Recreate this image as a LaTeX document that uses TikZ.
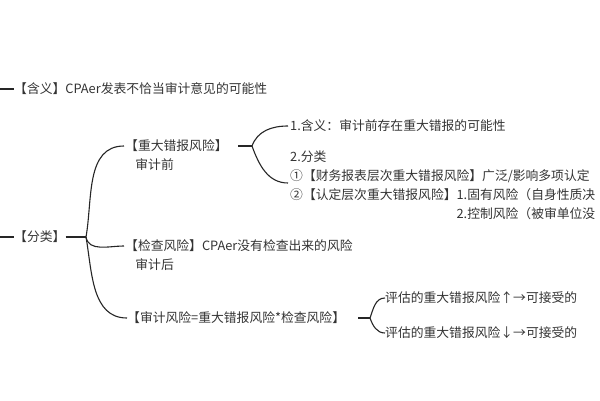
\documentclass[tikz,border=0pt]{standalone}
\usepackage{fontspec}
\setmainfont{Noto Sans CJK SC}
\begin{document}
\begin{tikzpicture}[x=1pt,y=-1pt,
  txt/.style={anchor=west,inner sep=0pt,font=\fontsize{12.8}{19}\selectfont,text=black!80},
  ln/.style={line width=1.1pt,black!85},
  br/.style={ln}]
\useasboundingbox (0,0) rectangle (600,400);
\clip (0,0) rectangle (600,400);
% top
\coordinate (s1) at (0,89);
\node[txt] (han) at (14,89) {【含义】CPAer发表不恰当审计意见的可能性};
\draw[ln] (s1) -- (han.west);
\coordinate (s2) at (0,237);
\node[txt] (fl) at (14,237) {【分类】};
\draw[ln] (s2) -- (fl.west);
\coordinate (b1) at (86,237);
\draw[ln] (fl.east) -- (b1);
% level 2
\node[txt,align=left] (zd) at (125,155) {【重大错报风险】\\\hspace{0.8em}审计前};
\node[txt,align=left] (jc) at (125,255) {【检查风险】CPAer没有检查出来的风险\\\hspace{0.8em}审计后};
\node[txt] (sj) at (127,318) {【审计风险=重大错报风险*检查风险】};
\coordinate (t0) at (124,146);
\coordinate (t3) at (124,246);
\draw[br] (b1) to[out=80,in=180] (t0);
\draw[br] (b1) to[out=-80,in=180] (t3);
\draw[br] (b1) to[out=-80,in=180] (sj.west);
% zd branch
\coordinate (b2a) at (238,146);
\coordinate (b2) at (252,146);
\draw[ln] (b2a) -- (b2);
\node[txt] (hy) at (290,126) {1.含义：审计前存在重大错报的可能性};
\node[txt,align=left] (cl) at (290,185) {2.分类\\①【财务报表层次重大错报风险】广泛/影响多项认定\\②【认定层次重大错报风险】1.固有风险（自身性质决\\\hspace{13em}2.控制风险（被审单位没};
\coordinate (t1) at (288,126);
\coordinate (t2) at (288,183);
\draw[br] (b2) to[out=70,in=180] (t1);
\draw[br] (b2) to[out=-70,in=180] (t2);
% sj branch
\coordinate (b3a) at (358,318);
\coordinate (b3) at (370,318);
\draw[ln] (b3a) -- (b3);
\node[txt] (p1) at (385,298) {评估的重大错报风险↑→可接受的};
\node[txt] (p2) at (385,333) {评估的重大错报风险↓→可接受的};
\draw[br] (b3) to[out=70,in=180] (p1.west);
\draw[br] (b3) to[out=-70,in=180] (p2.west);
\end{tikzpicture}
\end{document}
